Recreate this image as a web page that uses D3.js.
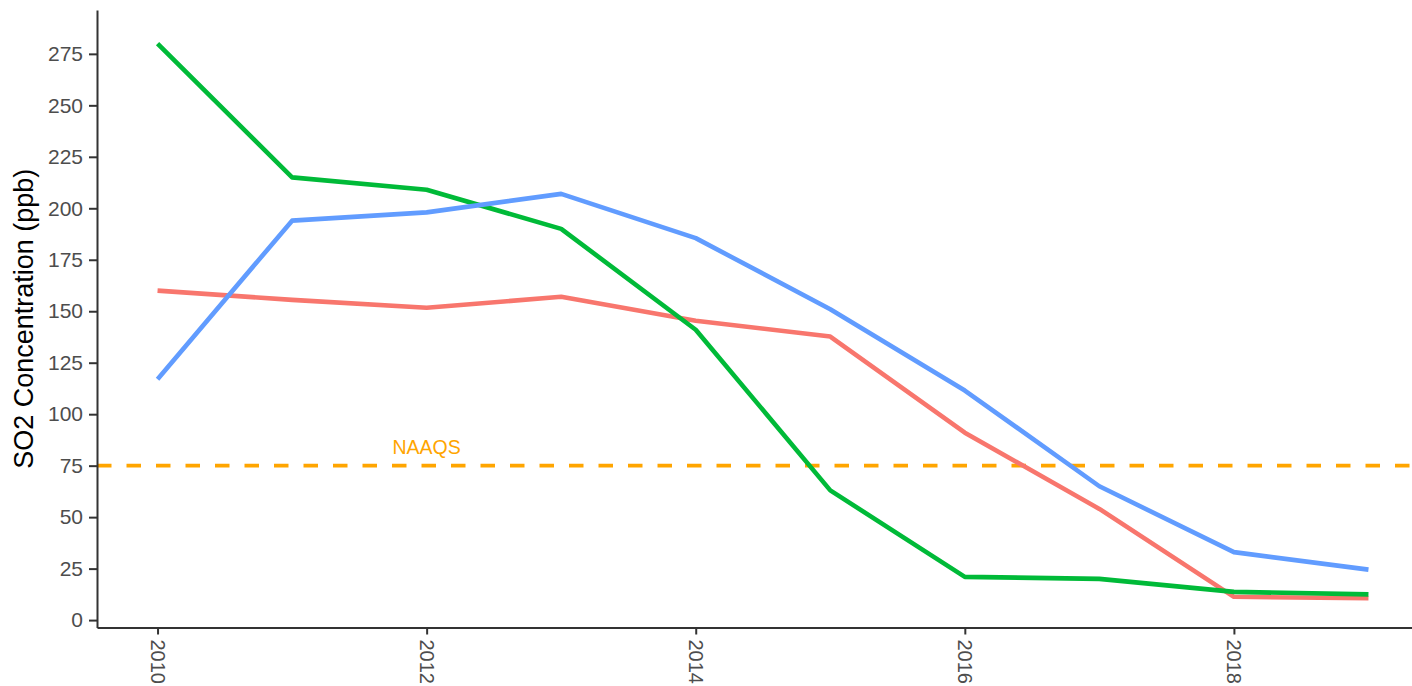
<!DOCTYPE html>
<html>
<head>
<meta charset="utf-8">
<script src="https://cdn.jsdelivr.net/npm/d3@7"></script>
<style>
  body { margin: 0; background: #fff; }
  svg { display: block; font-family: "Liberation Sans", Arial, sans-serif; }
  .line { fill: none; stroke-width: 4.6; stroke-linejoin: round; }
</style>
</head>
<body>
<div id="chart"></div>
<script>
// years on the x axis
var years = [2010, 2011, 2012, 2013, 2014, 2015, 2016, 2017, 2018, 2019];
// SO2 series (ppb)
var redValues   = [160, 155.5, 151.7, 157, 145.4, 137.7, 91, 54, 11.3, 10.6];
var greenValues = [280, 215, 209, 190, 141, 63, 21, 20, 13.7, 12.5];
var blueValues  = [117, 194, 198, 207, 185.5, 151, 111.5, 65, 33, 24.5];
var seriesColors = ["#F8766D", "#00BA38", "#619CFF"];
var xTicks = [2010, 2012, 2014, 2016, 2018];
var yTicks = [0, 25, 50, 75, 100, 125, 150, 175, 200, 225, 250, 275];
var naaqsValue = 75;
var naaqsLabel = "NAAQS";
var naaqsLabelYear = 2012;

var W = 1412, H = 686;
// panel edges
var panel = {left: 97, top: 10, bottom: 627.5, right: 1429};

var svg = d3.select("#chart").append("svg")
    .attr("width", W)
    .attr("height", H);

var x = d3.scaleLinear().domain([2009.55, 2019.45]).range([panel.left, panel.right]);
var y = d3.scaleLinear().domain([-3.6, 296.3]).range([panel.bottom, panel.top]);

// NAAQS reference line
svg.append("line")
    .attr("x1", panel.left).attr("x2", W)
    .attr("y1", y(naaqsValue)).attr("y2", y(naaqsValue))
    .attr("stroke", "#FFA500")
    .attr("stroke-width", 3.6)
    .attr("stroke-dasharray", "14.5,15");

svg.append("text")
    .attr("x", x(naaqsLabelYear))
    .attr("y", y(naaqsValue) - 12)
    .attr("text-anchor", "middle")
    .attr("fill", "#FFA500")
    .style("font-size", "19.5px")
    .text(naaqsLabel);

// the three lines
var valueline = d3.line()
    .x(function(d, i) { return x(years[i]); })
    .y(function(d) { return y(d); });

var allSeries = [redValues, greenValues, blueValues];
allSeries.forEach(function(vals, i) {
    svg.append("path")
        .datum(vals)
        .attr("class", "line")
        .attr("stroke", seriesColors[i])
        .attr("d", valueline);
});

// x axis
var xAxis = svg.append("g")
    .attr("transform", "translate(0," + panel.bottom + ")")
    .call(d3.axisBottom(x).tickValues(xTicks).tickFormat(d3.format("d"))
        .tickSize(7).tickSizeOuter(0).tickPadding(5));
xAxis.select(".domain").attr("stroke", "#333").attr("stroke-width", 2);
xAxis.selectAll(".tick line").attr("stroke", "#333").attr("stroke-width", 2);
xAxis.selectAll(".tick text")
    .attr("fill", "#4D4D4D")
    .style("font-size", "20px")
    .attr("transform", "rotate(90)")
    .attr("x", 12)
    .attr("y", 0)
    .attr("dy", "0.35em")
    .attr("text-anchor", "start");

// y axis
var yAxis = svg.append("g")
    .attr("transform", "translate(" + panel.left + ",0)")
    .call(d3.axisLeft(y).tickValues(yTicks).tickSize(8).tickSizeOuter(0).tickPadding(6));
yAxis.select(".domain").attr("stroke", "#333").attr("stroke-width", 2);
yAxis.selectAll(".tick line").attr("stroke", "#333").attr("stroke-width", 2);
yAxis.selectAll(".tick text")
    .attr("fill", "#4D4D4D")
    .style("font-size", "21px");

// text label for the y axis
svg.append("text")
    .attr("transform", "rotate(-90)")
    .attr("x", -(panel.top + panel.bottom) / 2)
    .attr("y", 33)
    .style("text-anchor", "middle")
    .style("font-size", "27px")
    .attr("fill", "#000")
    .text("SO2 Concentration (ppb)");
</script>
</body>
</html>
